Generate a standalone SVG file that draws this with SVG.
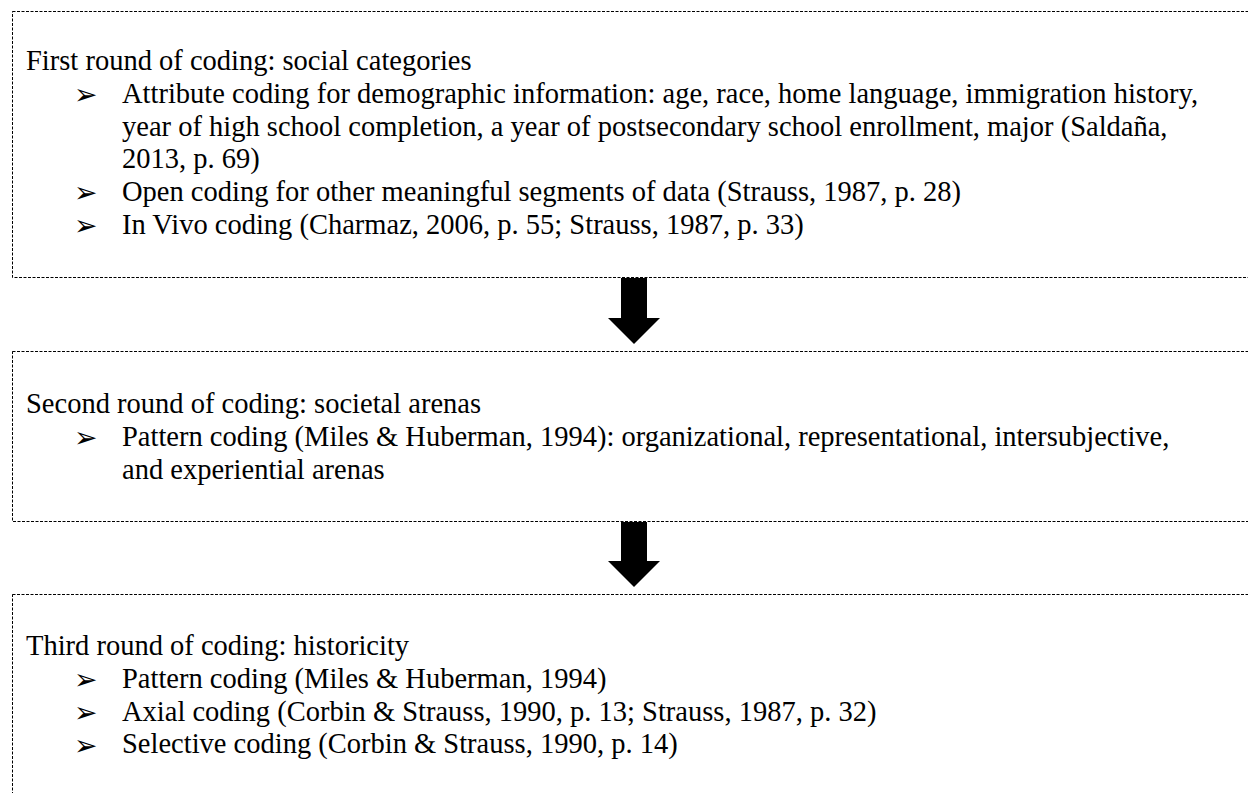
<svg xmlns="http://www.w3.org/2000/svg" width="1248" height="793" viewBox="0 0 1248 793">
<style>
.box{fill:none;stroke:#000;stroke-width:1;stroke-dasharray:3,1.5}
.t{font-family:"Liberation Serif","Times New Roman",serif;font-size:28.5px;fill:#000}
.b{font-family:"DejaVu Sans",sans-serif;font-size:28px;fill:#000}
.arr{fill:#000}
</style>
<rect width="1248" height="793" fill="#fff"/>
<g id="node-first-round">
<rect class="box" x="12.5" y="11.5" width="1260" height="266"/>
<text class="t" x="26" y="70">First round of coding: social categories</text>
<text class="b" x="74" y="104">➢</text>
<text class="t" x="122" y="102.8">Attribute coding for demographic information: age, race, home language, immigration history,</text>
<text class="t" x="122" y="135.6">year of high school completion, a year of postsecondary school enrollment, major (Saldaña,</text>
<text class="t" x="122" y="168.4">2013, p. 69)</text>
<text class="b" x="74" y="202.4">➢</text>
<text class="t" x="122" y="201.2">Open coding for other meaningful segments of data (Strauss, 1987, p. 28)</text>
<text class="b" x="74" y="235.2">➢</text>
<text class="t" x="122" y="234">In Vivo coding (Charmaz, 2006, p. 55; Strauss, 1987, p. 33)</text>
</g>
<g id="node-second-round">
<rect class="box" x="12.5" y="351.5" width="1260" height="170"/>
<text class="t" x="26" y="413">Second round of coding: societal arenas</text>
<text class="b" x="74" y="447">➢</text>
<text class="t" x="122" y="445.8">Pattern coding (Miles &amp; Huberman, 1994): organizational, representational, intersubjective,</text>
<text class="t" x="122" y="478.6">and experiential arenas</text>
</g>
<g id="node-third-round">
<rect class="box" x="12.5" y="594.5" width="1260" height="260"/>
<text class="t" x="26" y="655">Third round of coding: historicity</text>
<text class="b" x="74" y="689">➢</text>
<text class="t" x="122" y="687.8">Pattern coding (Miles &amp; Huberman, 1994)</text>
<text class="b" x="74" y="721.8">➢</text>
<text class="t" x="122" y="720.6">Axial coding (Corbin &amp; Strauss, 1990, p. 13; Strauss, 1987, p. 32)</text>
<text class="b" x="74" y="754.6">➢</text>
<text class="t" x="122" y="753.4">Selective coding (Corbin &amp; Strauss, 1990, p. 14)</text>
</g>
<g id="connectors">
<polygon class="arr" points="621,278 647,278 647,318 660,318 634,344 608,318 621,318"/>
<polygon class="arr" points="621,522 647,522 647,561 660,561 634,587 608,561 621,561"/>
</g>
</svg>
